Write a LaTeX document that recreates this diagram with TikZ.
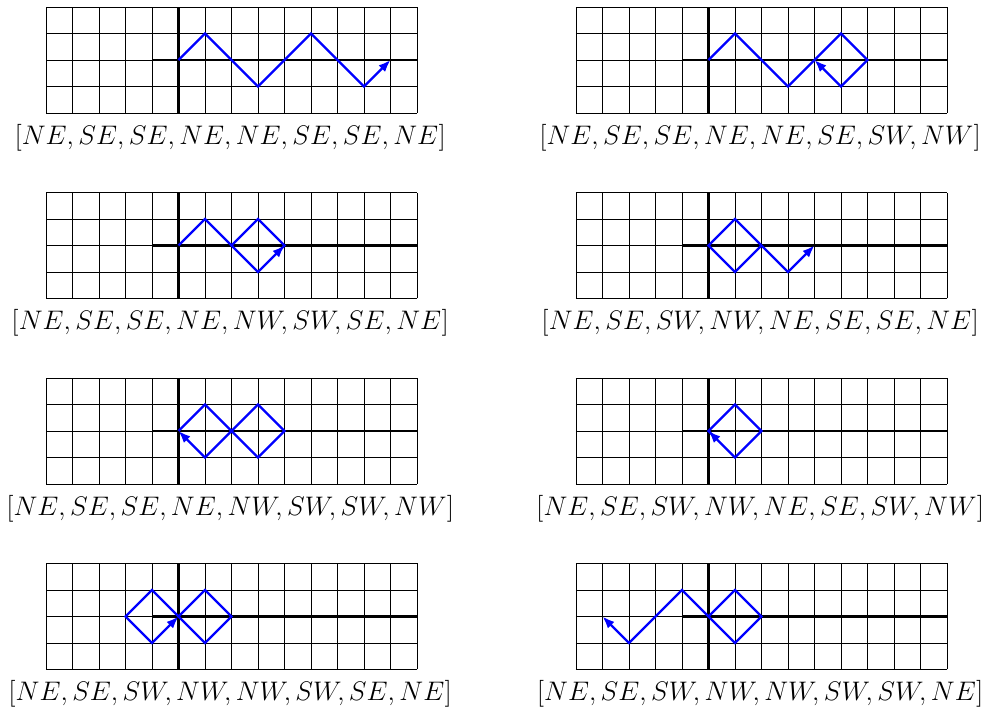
\documentclass[tikz,border=0pt]{standalone}
\usetikzlibrary{arrows.meta}
\tikzset{
  gridline/.style={line width=0.5pt, black},
  axisline/.style={line width=1.3pt, black},
  walk/.style={blue, line width=1.25pt, line join=miter, -{Latex[length=6.5pt,width=5pt]}},
  lbl/.style={font=\fontsize{14.8}{17}\selectfont, inner sep=0pt}
}
\newcommand\walkpanel[4]{%
  \begin{scope}[shift={(#1,#2)}]
    \draw[gridline, step=0.5cm] (0,0) grid (14,-4);
    \draw[axisline] (4,-2) -- (14,-2);
    \draw[axisline] (5,0) -- (5,-4);
    \begin{scope}[shift={(5,-2)}]
      \draw[walk] #3;
    \end{scope}
    \node[lbl] at (6.95,-4.92) {$#4$};
  \end{scope}}
\begin{document}
\begin{tikzpicture}[x=0.5cm,y=0.5cm]
\useasboundingbox (-1.736,0.264) rectangle (35.51,-26.64);
\walkpanel{0}{0}{(0,0)--(1,1)--(2,0)--(3,-1)--(4,0)--(5,1)--(6,0)--(7,-1)--(8,0)}{[NE,SE,SE,NE,NE,SE,SE,NE]}
\walkpanel{20}{0}{(0,0)--(1,1)--(2,0)--(3,-1)--(4,0)--(5,1)--(6,0)--(5,-1)--(4,0)}{[NE,SE,SE,NE,NE,SE,SW,NW]}
\walkpanel{0}{-7}{(0,0)--(1,1)--(2,0)--(3,-1)--(4,0)--(3,1)--(2,0)--(3,-1)--(4,0)}{[NE,SE,SE,NE,NW,SW,SE,NE]}
\walkpanel{20}{-7}{(0,0)--(1,1)--(2,0)--(1,-1)--(0,0)--(1,1)--(2,0)--(3,-1)--(4,0)}{[NE,SE,SW,NW,NE,SE,SE,NE]}
\walkpanel{0}{-14}{(0,0)--(1,1)--(2,0)--(3,-1)--(4,0)--(3,1)--(2,0)--(1,-1)--(0,0)}{[NE,SE,SE,NE,NW,SW,SW,NW]}
\walkpanel{20}{-14}{(0,0)--(1,1)--(2,0)--(1,-1)--(0,0)--(1,1)--(2,0)--(1,-1)--(0,0)}{[NE,SE,SW,NW,NE,SE,SW,NW]}
\walkpanel{0}{-21}{(0,0)--(1,1)--(2,0)--(1,-1)--(0,0)--(-1,1)--(-2,0)--(-1,-1)--(0,0)}{[NE,SE,SW,NW,NW,SW,SE,NE]}
\walkpanel{20}{-21}{(0,0)--(1,1)--(2,0)--(1,-1)--(0,0)--(-1,1)--(-2,0)--(-3,-1)--(-4,0)}{[NE,SE,SW,NW,NW,SW,SW,NE]}
\end{tikzpicture}
\end{document}
